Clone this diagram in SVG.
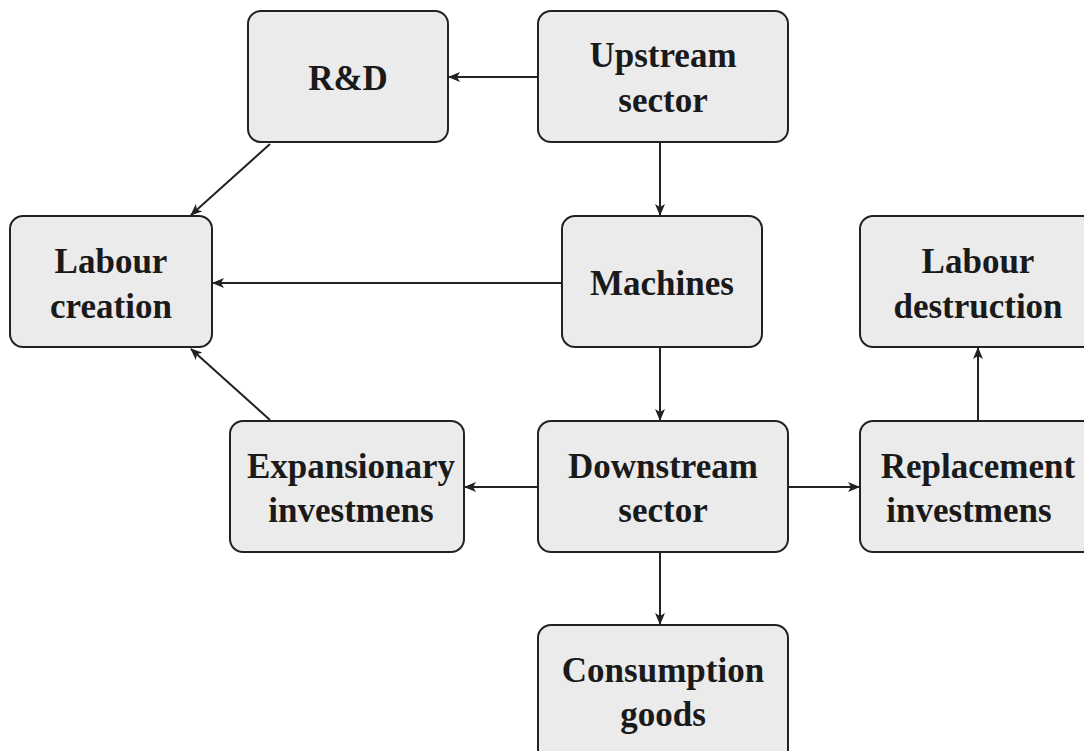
<svg xmlns="http://www.w3.org/2000/svg" width="1084" height="751" viewBox="0 0 1084 751">
<style>
.box{fill:#ebebeb;stroke:#222;stroke-width:2}
.t{font-family:"Liberation Serif","DejaVu Serif",serif;font-weight:bold;font-size:35px;fill:#1a1a1a;text-anchor:middle}
.c{stroke:#222;stroke-width:2;fill:none;marker-end:url(#ah)}
</style>
<defs>
<marker id="ah" viewBox="0 0 12 10" refX="11" refY="5" markerWidth="12" markerHeight="10" markerUnits="userSpaceOnUse" orient="auto">
<path d="M0,0 L12,5 L0,10 L3,5 Z" fill="#222"/>
</marker>
</defs>
<rect width="1084" height="751" fill="#fff"/>
<g id="connectors">
<line class="c" x1="538" y1="77" x2="449" y2="77"/>
<line class="c" x1="660" y1="142" x2="660" y2="215"/>
<line class="c" x1="270" y1="144" x2="191" y2="215"/>
<line class="c" x1="562" y1="283" x2="213" y2="283"/>
<line class="c" x1="660" y1="347" x2="660" y2="420"/>
<line class="c" x1="270" y1="420" x2="191" y2="349"/>
<line class="c" x1="538" y1="487" x2="465" y2="487"/>
<line class="c" x1="788" y1="487" x2="859" y2="487"/>
<line class="c" x1="978" y1="421" x2="978" y2="348"/>
<line class="c" x1="660" y1="552" x2="660" y2="624"/>
</g>
<g id="rnd"><rect class="box" x="248" y="11" width="200" height="131" rx="13"/><text class="t" x="348" y="90">R&amp;D</text></g>
<g id="upstream"><rect class="box" x="538" y="11" width="250" height="131" rx="13"/><text class="t" x="663" y="67">Upstream</text><text class="t" x="663" y="112">sector</text></g>
<g id="labour-creation"><rect class="box" x="10" y="216" width="202" height="131" rx="13"/><text class="t" x="111" y="273">Labour</text><text class="t" x="111" y="318">creation</text></g>
<g id="machines"><rect class="box" x="562" y="216" width="200" height="131" rx="13"/><text class="t" x="662" y="295">Machines</text></g>
<g id="labour-destruction"><rect class="box" x="860" y="216" width="240" height="131" rx="13"/><text class="t" x="978" y="273">Labour</text><text class="t" x="978" y="318">destruction</text></g>
<g id="expansionary"><rect class="box" x="230" y="421" width="234" height="131" rx="13"/><text class="t" x="351" y="478">Expansionary</text><text class="t" x="351" y="522">investmens</text></g>
<g id="downstream"><rect class="box" x="538" y="421" width="250" height="131" rx="13"/><text class="t" x="663" y="478">Downstream</text><text class="t" x="663" y="522">sector</text></g>
<g id="replacement"><rect class="box" x="860" y="421" width="240" height="131" rx="13"/><text class="t" x="978" y="478">Replacement</text><text class="t" x="969" y="522">investmens</text></g>
<g id="consumption"><rect class="box" x="538" y="625" width="250" height="140" rx="13"/><text class="t" x="663" y="682">Consumption</text><text class="t" x="663" y="726">goods</text></g>
</svg>
